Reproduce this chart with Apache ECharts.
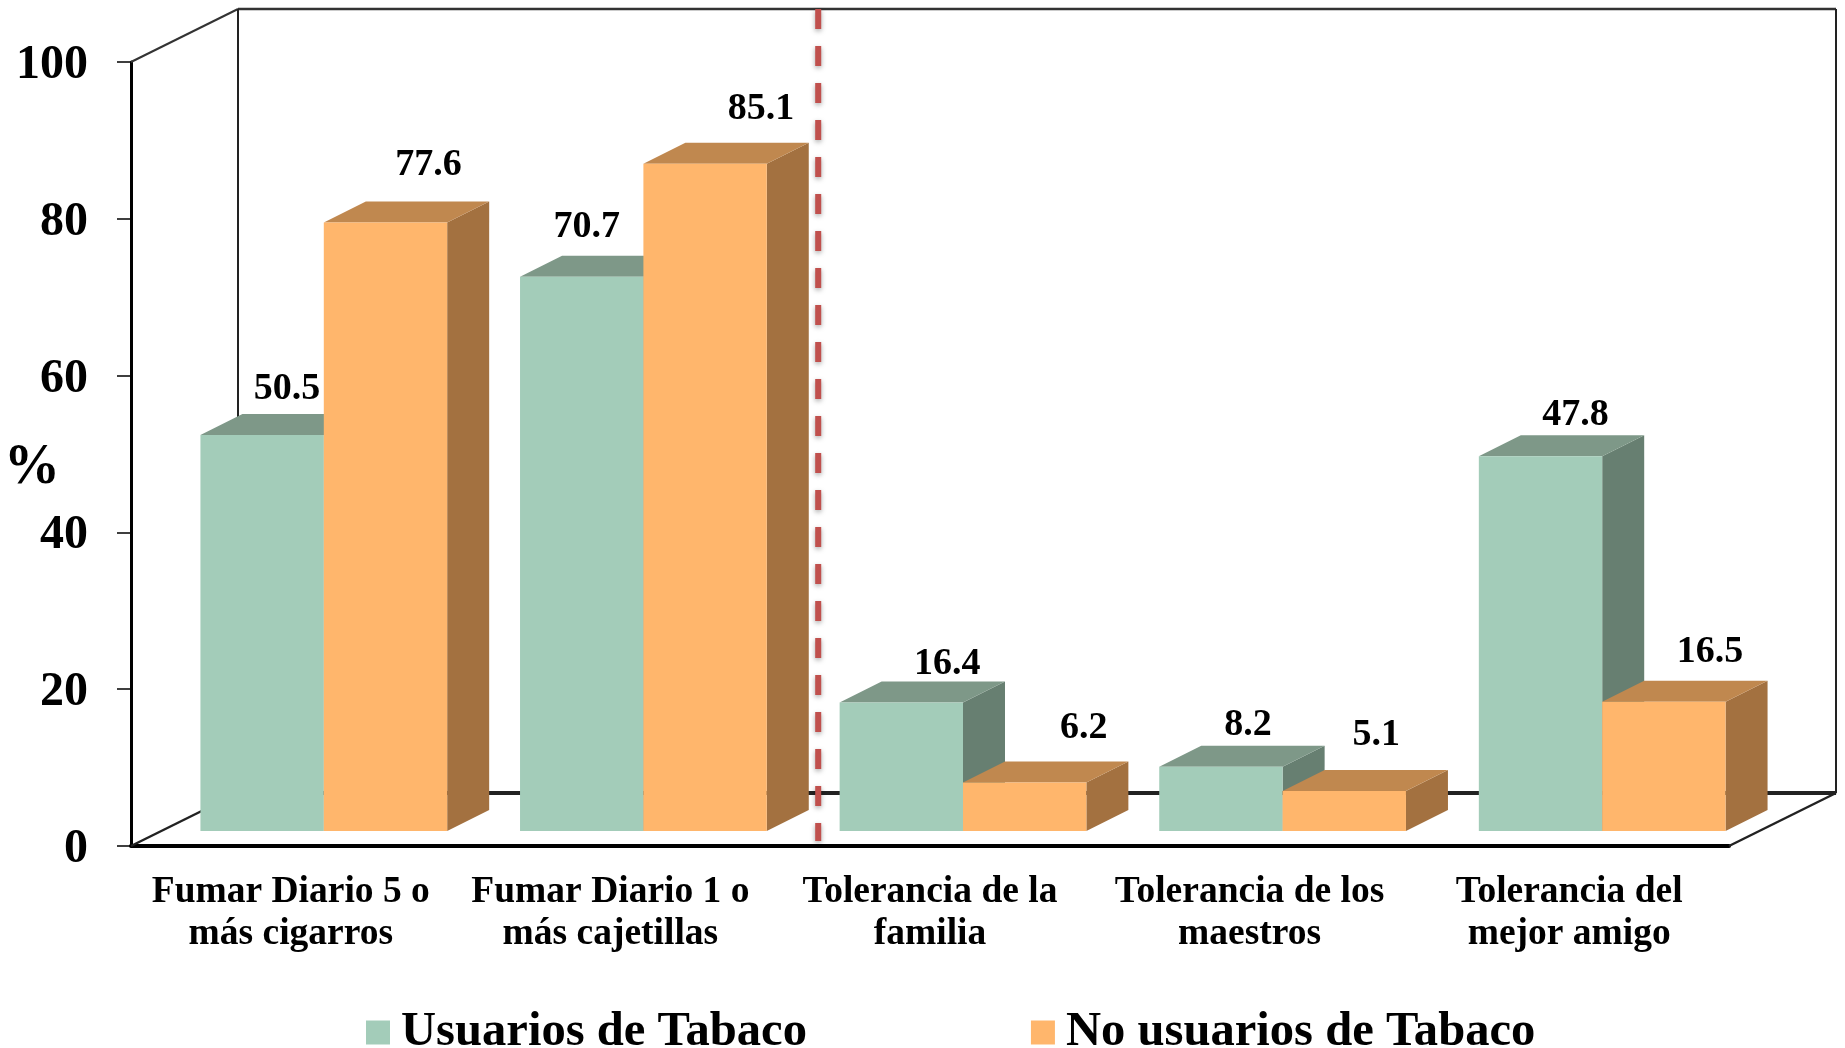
<!DOCTYPE html>
<html>
<head>
<meta charset="utf-8">
<title>Usuarios de Tabaco</title>
<style>
  html, body { margin: 0; padding: 0; background: #fff; }
  #main { width: 1845px; height: 1048px; }
</style>
<script src="https://cdn.jsdelivr.net/npm/echarts@6/dist/echarts.min.js"></script>
</head>
<body>
<div id="main"></div>
<script>
var categories = [
  'Fumar Diario 5 o\nmás cigarros',
  'Fumar Diario 1 o\nmás cajetillas',
  'Tolerancia de la\nfamilia',
  'Tolerancia de los\nmaestros',
  'Tolerancia del\nmejor amigo'
];
var usuarios = [50.5, 70.7, 16.4, 8.2, 47.8];
var noUsuarios = [77.6, 85.1, 6.2, 5.1, 16.5];
var yTicks = { min: 0, max: 100, interval: 20 };

var FONT = '"Liberation Serif", "Times New Roman", serif';

// profundidad del falso 3D
var wallX = 107, wallY = 53;     // pared del fondo respecto al eje
var baseLift = 15;               // la barra no apoya sobre el eje
var sideX = 42, sideY = 21;      // cara lateral y tapa de cada barra
var barShift = 33;
var barRatio = 0.386;

var greenFaces = { face: '#A3CCB9', top: '#7E9888', side: '#677F71' };
var orangeFaces = { face: '#FFB66C', top: '#C0884F', side: '#A37140' };

// ajuste a mano de las etiquetas, igual que en el original
var greenNudge = [[4, -25], [-16, -29], [25, -17], [6, -21], [14, -20]];
var orangeNudge = [[22, -36], [35, -34], [38, -33], [11, -35], [25, -28]];

function line(x1, y1, x2, y2, width, color) {
  return {
    type: 'line',
    shape: { x1: x1, y1: y1, x2: x2, y2: y2 },
    style: { stroke: color, lineWidth: width }
  };
}

function renderWalls(params, api) {
  var bottomLeft = api.coord([0, yTicks.min]);
  var topLeft = api.coord([0, yTicks.max]);
  var band = api.size([1, 0])[0];
  var left = bottomLeft[0] - band / 2;
  var right = left + band * categories.length;
  var y0 = bottomLeft[1], y100 = topLeft[1];
  return {
    type: 'group',
    children: [
      line(left, y100, left + wallX, y100 - wallY, 2, '#333'),
      line(left + wallX, y100 - wallY, right + wallX, y100 - wallY, 2.5, '#333'),
      line(left + wallX, y100 - wallY, left + wallX, y0 - wallY, 2, '#222'),
      line(right + wallX, y100 - wallY, right + wallX, y0 - wallY, 2, '#222'),
      line(left + wallX, y0 - wallY, right + wallX, y0 - wallY, 4, '#222'),
      line(left, y0, left + wallX, y0 - wallY, 2.5, '#222'),
      line(right, y0, right + wallX, y0 - wallY, 2.5, '#222')
    ]
  };
}

function makeBarRenderer(slot, faces, nudge) {
  return function (params, api) {
    var i = api.value(0);
    var base = api.coord([i, 0]);
    var top = api.coord([i, api.value(1)]);
    var band = api.size([1, 0])[0];
    var w = band * barRatio;
    var x = base[0] - w + barShift + slot * w;
    var yb = base[1] - baseLift;
    var yt = top[1] - baseLift;
    var n = nudge[params.dataIndex];
    return {
      type: 'group',
      children: [
        {
          type: 'polygon',
          shape: { points: [[x + w, yb], [x + w + sideX, yb - sideY], [x + w + sideX, yt - sideY], [x + w, yt]] },
          style: { fill: faces.side }
        },
        {
          type: 'polygon',
          shape: { points: [[x, yt], [x + sideX, yt - sideY], [x + w + sideX, yt - sideY], [x + w, yt]] },
          style: { fill: faces.top }
        },
        {
          type: 'rect',
          shape: { x: x, y: yt, width: w, height: yb - yt },
          style: { fill: faces.face }
        },
        {
          type: 'text',
          style: {
            x: x + w / 2 + sideX / 2 + n[0],
            y: yt - sideY + n[1],
            text: api.value(1).toFixed(1),
            fill: '#000',
            font: 'bold 38px ' + FONT,
            textAlign: 'center',
            textVerticalAlign: 'middle'
          }
        }
      ]
    };
  };
}

// linea roja que separa los dos grupos
function renderDivider(params, api) {
  var p = api.coord([1, yTicks.min]);
  var q = api.coord([1, yTicks.max]);
  var band = api.size([1, 0])[0];
  var x = p[0] + band / 2 + 48;
  return {
    type: 'line',
    shape: { x1: x, y1: q[1] - wallY, x2: x, y2: p[1] - 5 },
    style: {
      stroke: '#C0504D',
      lineWidth: 6,
      lineDash: [20, 17],
      shadowColor: 'rgba(0,0,0,0.35)',
      shadowBlur: 5,
      shadowOffsetY: 2
    }
  };
}

var chart = echarts.init(document.getElementById('main'));
chart.setOption({
  backgroundColor: '#fff',
  animation: false,
  textStyle: { fontFamily: FONT },
  grid: { left: 131, right: 116, top: 62, bottom: 202, outerBoundsMode: 'none' },
  legend: {
    data: ['Usuarios de Tabaco', 'No usuarios de Tabaco'],
    left: 361,
    top: 1003,
    icon: 'rect',
    itemWidth: 24,
    itemHeight: 24,
    itemGap: 224,
    textStyle: { fontFamily: FONT, fontWeight: 'bold', fontSize: 48.6, color: '#000', padding: [0, 0, 0, 6] }
  },
  xAxis: {
    type: 'category',
    data: categories,
    axisLine: { lineStyle: { color: '#000', width: 4 } },
    axisTick: { length: 10, lineStyle: { color: '#000', width: 1.5 } },
    axisLabel: {
      interval: 0,
      margin: 25,
      color: '#000',
      fontFamily: FONT,
      fontWeight: 'bold',
      fontSize: 37.5,
      lineHeight: 42
    }
  },
  yAxis: {
    type: 'value',
    min: yTicks.min,
    max: yTicks.max,
    interval: yTicks.interval,
    name: '{p|%}',
    nameLocation: 'middle',
    nameGap: 71,
    nameRotate: 0,
    nameMoveOverlap: false,
    nameTextStyle: {
      rich: { p: { color: '#000', fontFamily: FONT, fontWeight: 'bold', fontSize: 56, padding: [30, 0, 0, 0] } }
    },
    splitLine: { show: false },
    axisLine: { show: true, onZero: false, lineStyle: { color: '#000', width: 3 } },
    axisTick: { show: true, length: 14, lineStyle: { color: '#000', width: 1.5 } },
    axisLabel: {
      margin: 43,
      formatter: '{t|{value}}',
      rich: { t: { color: '#000', fontFamily: FONT, fontWeight: 'bold', fontSize: 48, padding: [7, 0, 0, 0] } }
    }
  },
  series: [
    {
      type: 'custom',
      name: 'paredes',
      renderItem: renderWalls,
      clip: false,
      silent: true,
      data: [[0, 0]],
      encode: { x: 0, y: 1 }
    },
    {
      type: 'custom',
      name: 'Usuarios de Tabaco',
      renderItem: makeBarRenderer(0, greenFaces, greenNudge),
      clip: false,
      itemStyle: { color: greenFaces.face },
      data: usuarios.map(function (v, i) { return [i, v]; }),
      encode: { x: 0, y: 1 }
    },
    {
      type: 'custom',
      name: 'No usuarios de Tabaco',
      renderItem: makeBarRenderer(1, orangeFaces, orangeNudge),
      clip: false,
      itemStyle: { color: orangeFaces.face },
      data: noUsuarios.map(function (v, i) { return [i, v]; }),
      encode: { x: 0, y: 1 }
    },
    {
      type: 'custom',
      name: 'separador',
      renderItem: renderDivider,
      clip: false,
      silent: true,
      z: 5,
      data: [[1, 0]],
      encode: { x: 0, y: 1 }
    }
  ]
});
</script>
</body>
</html>
